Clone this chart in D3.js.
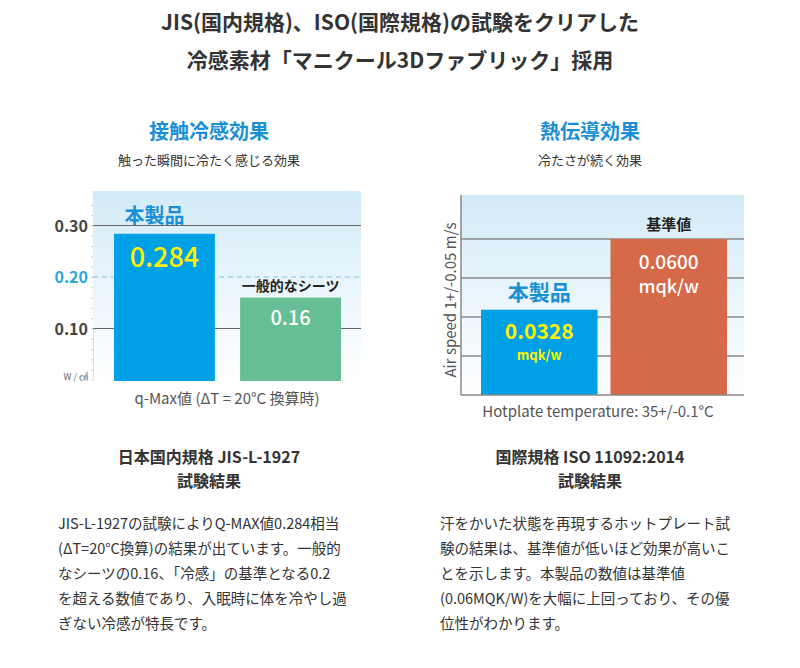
<!DOCTYPE html>
<html><head><meta charset="utf-8">
<script src="https://cdn.jsdelivr.net/npm/d3@7"></script>
<style>body{margin:0;background:#fff;}svg{font-family:"Noto Sans CJK JP","Noto Sans",sans-serif;}</style>
</head><body><svg id="c" width="800" height="668"></svg>
<script>
const leftCats = ["本製品", "一般的なシーツ"];
const leftValues = [0.284, 0.16];
const leftTicks = [0.1, 0.2, 0.3];
const rightCats = ["本製品", "基準値"];
const rightValues = [0.0328, 0.06];
const rightGrid = [0.015, 0.03, 0.045, 0.06];
const leftText = ["JIS-L-1927の試験によりQ-MAX値0.284相当", "(ΔT=20°C換算)の結果が出ています。一般的", "なシーツの0.16、「冷感」の基準となる0.2", "を超える数値であり、入眠時に体を冷やし過", "ぎない冷感が特長です。"];
const rightText = ["汗をかいた状態を再現するホットプレート試", "験の結果は、基準値が低いほど効果が高いこ", "とを示します。本製品の数値は基準値", "(0.06MQK/W)を大幅に上回っており、その優", "位性がわかります。"];

const svg = d3.select("#c");
const defs = svg.append("defs");
const g = defs.append("linearGradient").attr("id", "bg").attr("x1", 0).attr("y1", 0).attr("x2", 0).attr("y2", 1);
g.append("stop").attr("offset", 0).attr("stop-color", "#d3ebf8");
g.append("stop").attr("offset", 1).attr("stop-color", "#ffffff");

const T = (x, y, s, size, opt = {}) => svg.append("text").attr("x", x).attr("y", y).text(s)
  .attr("font-size", size).attr("text-anchor", opt.a || "middle").attr("font-weight", opt.w || "normal")
  .attr("fill", opt.c || "#333");

T(400, 30, "JIS(国内規格)、ISO(国際規格)の試験をクリアした", 21, {w: "bold"});
T(400, 68, "冷感素材「マニクール3Dファブリック」採用", 21, {w: "bold"});
T(209, 139, "接触冷感効果", 20, {w: "bold", c: "#1a8fd6"});
T(209, 165, "触った瞬間に冷たく感じる効果", 13);
T(590, 139, "熱伝導効果", 20, {w: "bold", c: "#1a8fd6"});
T(590, 165, "冷たさが続く効果", 13);

// left chart
const L = {x0: 93, x1: 361, top: 191, bottom: 381};
svg.append("rect").attr("x", L.x0).attr("y", L.top).attr("width", L.x1 - L.x0).attr("height", L.bottom - L.top).attr("fill", "url(#bg)");
const ly = d3.scaleLinear().domain([0, 0.1]).range([380, 328.5]);
const lx = d3.scaleBand().domain(leftCats).range([114, 341]).paddingInner(0.2).paddingOuter(0);
leftTicks.forEach(t => {
  const dash = Math.abs(t - 0.2) < 1e-9;
  svg.append("line").attr("x1", L.x0).attr("x2", L.x1).attr("y1", ly(t)).attr("y2", ly(t))
    .attr("stroke", dash ? "#7cc7ec" : "#666").attr("stroke-width", 1).attr("stroke-dasharray", dash ? "5,4" : null);
  T(88, ly(t) + 6, t.toFixed(2), 16, {a: "end", w: "bold", c: dash ? "#29a6e0" : "#444"});
});
svg.append("g").attr("transform", `translate(${L.x0},0)`).call(d3.axisLeft(ly).tickValues(d3.range(0.02, 0.36, 0.02)).tickSize(2).tickFormat(""))
  .call(a => { a.select(".domain").attr("stroke", "#ddd"); a.selectAll("line").attr("stroke", "#ccc"); });
const lcol = ["#00a0e6", "#66bf94"];
leftCats.forEach((c, i) => {
  svg.append("rect").attr("x", lx(c)).attr("y", ly(leftValues[i])).attr("width", lx.bandwidth()).attr("height", L.bottom - ly(leftValues[i])).attr("fill", lcol[i]);
});
T(lx(leftCats[0]) + lx.bandwidth() / 2 - 10, ly(leftValues[0]) - 11, leftCats[0], 20, {w: "bold", c: "#1a8fd6"});
T(lx(leftCats[0]) + lx.bandwidth() / 2, ly(leftValues[0]) + 33, "0.284", 27, {c: "#fff200", w: "500"});
T(lx(leftCats[1]) + lx.bandwidth() / 2, ly(leftValues[1]) - 7, leftCats[1], 14, {w: "bold", c: "#222"});
T(lx(leftCats[1]) + lx.bandwidth() / 2, ly(leftValues[1]) + 27, "0.16", 20, {c: "#fff", w: "500"});
T(88, 380, "W / ㎠", 9, {a: "end", c: "#666"});
T(227, 404, "q-Max値 (ΔT = 20°C 換算時)", 15, {c: "#555"});

// right chart
const R = {x0: 461, x1: 744, top: 195, bottom: 395};
svg.append("rect").attr("x", R.x0).attr("y", R.top).attr("width", R.x1 - R.x0).attr("height", R.bottom - R.top).attr("fill", "url(#bg)");
const ry = d3.scaleLinear().domain([0, 0.06]).range([R.bottom, 239]);
const rx = d3.scaleBand().domain(rightCats).range([481, 727]).paddingInner(0.1).paddingOuter(0);
rightGrid.forEach(t => svg.append("line").attr("x1", R.x0).attr("x2", R.x1).attr("y1", ry(t)).attr("y2", ry(t)).attr("stroke", "#888").attr("stroke-width", 1.5));
const rcol = ["#00a0e6", "#d5694a"];
rightCats.forEach((c, i) => {
  svg.append("rect").attr("x", rx(c)).attr("y", ry(rightValues[i])).attr("width", rx.bandwidth()).attr("height", R.bottom - ry(rightValues[i])).attr("fill", rcol[i]);
});
svg.append("line").attr("x1", R.x0).attr("x2", R.x0).attr("y1", R.top).attr("y2", R.bottom).attr("stroke", "#888").attr("stroke-width", 1.5);
svg.append("line").attr("x1", R.x0).attr("x2", R.x1).attr("y1", R.bottom).attr("y2", R.bottom).attr("stroke", "#888").attr("stroke-width", 1.5);
const c0 = rx(rightCats[0]) + rx.bandwidth() / 2, c1 = rx(rightCats[1]) + rx.bandwidth() / 2;
T(c0, ry(rightValues[0]) - 10, rightCats[0], 21, {w: "bold", c: "#1a8fd6"});
T(c0, ry(rightValues[0]) + 29, "0.0328", 21, {w: "bold", c: "#fff200"});
T(c0, ry(rightValues[0]) + 50, "mqk/w", 13, {w: "bold", c: "#fff200"});
T(c1, ry(rightValues[1]) - 9, rightCats[1], 15, {w: "bold", c: "#222"});
T(c1, ry(rightValues[1]) + 30, "0.0600", 19, {w: "500", c: "#fff"});
T(c1, ry(rightValues[1]) + 54, "mqk/w", 18, {w: "500", c: "#fff"});
svg.append("text").attr("transform", "translate(456,300) rotate(-90)").attr("text-anchor", "middle")
  .attr("font-size", 15).attr("fill", "#555").text("Air speed 1+/-0.05 m/s");
T(598, 417, "Hotplate temperature: 35+/-0.1°C", 15, {c: "#555"});

// lower texts
T(209, 463, "日本国内規格 JIS-L-1927", 16, {w: "bold"});
T(209, 487, "試験結果", 16, {w: "bold"});
T(590, 463, "国際規格 ISO 11092:2014", 16, {w: "bold"});
T(590, 487, "試験結果", 16, {w: "bold"});
leftText.forEach((s, i) => T(58, 529 + i * 25, s, 14.5, {a: "start"}));
rightText.forEach((s, i) => T(440, 529 + i * 25, s, 14.5, {a: "start"}));
</script></body></html>
